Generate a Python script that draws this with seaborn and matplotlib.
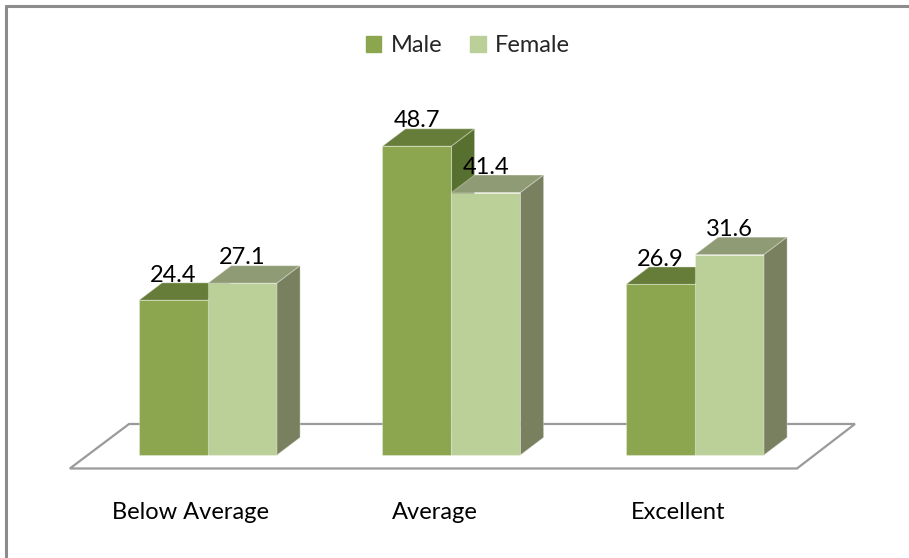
import numpy as np
import pandas as pd
import matplotlib
matplotlib.use('Agg')
import matplotlib.pyplot as plt
from matplotlib.patches import Polygon
from matplotlib.lines import Line2D
import seaborn as sb

sb.set_style('white')
plt.rcParams['font.family'] = ['Lato', 'DejaVu Sans']

# data
categories = ['Below Average', 'Average', 'Excellent']
male = [24.4, 48.7, 26.9]
female = [27.1, 41.4, 31.6]
series = ['Male', 'Female']

df = pd.DataFrame({
    'level': categories * 2,
    'pct': male + female,
    'sex': ['Male'] * len(categories) + ['Female'] * len(categories),
})

front = {'Male': '#8BA64F', 'Female': '#BBCF98'}
top = {'Male': '#667D39', 'Female': '#8E9B74'}
side = {'Male': '#58702F', 'Female': '#78805F'}
edge = (1, 1, 1, 0.3)

# fake 3d depth (data units)
dx, dy = 0.095, 2.76
fs = 17

fig = plt.figure(figsize=(9.09, 5.58), dpi=100)
ax = fig.add_axes([0, 0, 1, 1])

sb.barplot(data=df, x='level', y='pct', hue='sex', order=categories, hue_order=series,
           palette=front, width=0.567, linewidth=0, saturation=1, legend=False, ax=ax)

ax.set_xlim(-0.854, 2.879)
ax.set_ylim(-16.25, 71.77)
ax.axis('off')

# floor
n = len(categories)
floor = Polygon([(-0.567, -2.13), (n - 1 + 0.419, -2.13),
                 (n - 1 + 0.657, 4.89), (-0.324, 4.89)],
                closed=True, facecolor='white', edgecolor='#9A9A9A', lw=1.6, zorder=0.5)
ax.add_patch(floor)

# top/side faces + value labels
for i, p in enumerate(ax.patches[:2 * n]):
    s = series[i // n]
    x0, w, h = p.get_x(), p.get_width(), p.get_height()
    x1 = x0 + w
    z = 2 if s == 'Male' else 3
    p.set_zorder(z + 0.5 if s == 'Male' else z)
    p.set_edgecolor(edge)
    p.set_linewidth(0.8)
    ax.add_patch(Polygon([(x0, h), (x1, h), (x1 + dx, h + dy), (x0 + dx, h + dy)],
                         closed=True, facecolor=top[s], edgecolor=edge, lw=0.8, zorder=z))
    ax.add_patch(Polygon([(x1, 0), (x1, h), (x1 + dx, h + dy), (x1 + dx, dy)],
                         closed=True, facecolor=side[s], edgecolor=edge, lw=0.8, zorder=z))
    ax.text(x0 + w / 2, h + dy + 0.2, f'{h:.1f}', ha='center', va='baseline',
            fontsize=fs, color='black', zorder=5)

# category labels
for i, c in enumerate(categories):
    ax.text(i - 0.07, -9.0, c, ha='center', va='center', fontsize=fs, color='black')

# legend
handles = [plt.Rectangle((0, 0), 1, 1, color=front[s]) for s in series]
fig.legend(handles, series, loc='center', bbox_to_anchor=(468 / 909, 1 - 46 / 558),
           ncol=2, frameon=False, fontsize=fs, handlelength=0.65, handleheight=0.65,
           handletextpad=0.4, columnspacing=1.2)

# chart border (only top and left edges show)
fig.add_artist(Line2D([0.0066, 1], [1 - 6 / 558, 1 - 6 / 558], color='#8C8C8C', lw=2.2))
fig.add_artist(Line2D([0.0066, 0.0066], [0, 1 - 6 / 558], color='#8C8C8C', lw=2.2))

fig.savefig('out.png', dpi=100)
